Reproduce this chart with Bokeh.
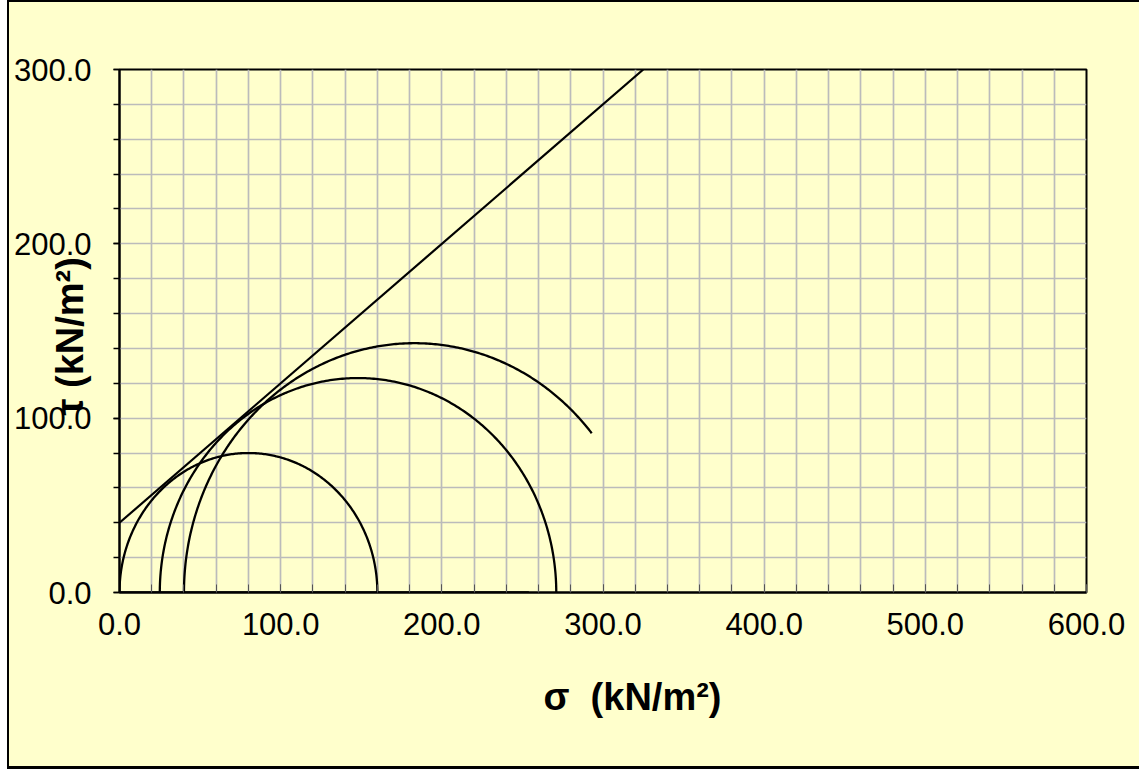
import numpy as np
from bokeh.plotting import figure
from bokeh.models import (Range1d, SingleIntervalTicker, FixedTicker,
                          NumeralTickFormatter, Title)
from bokeh.embed import file_html
from bokeh.resources import INLINE

# ---- data ----
sigma3 = [0.0, 25.0, 40.0]          # minor principal stress of each Mohr circle
sigma1 = [160.0, 271.0, 326.0]      # major principal stress of each Mohr circle
arc_end = [160.0, 271.0, 293.0]     # sigma where each drawn arc stops
env_sigma = [0.0, 325.0]            # failure envelope
env_tau = [40.0, 300.0]
base_sigma = [0.0, 254.0]           # baseline series
base_tau = [0.0, 0.0]
x_grid = list(range(0, 601, 20))
y_grid = list(range(0, 301, 20))

YELLOW = "#FFFFCC"
NB = "\u00a0"

p = figure(width=1139, height=769, output_backend="svg", toolbar_location=None,
           x_range=Range1d(0, 600), y_range=Range1d(0, 300),
           min_border_left=119, min_border_right=53,
           min_border_top=69, min_border_bottom=177)

p.background_fill_color = YELLOW
p.border_fill_alpha = 0
p.outline_line_color = "black"
p.outline_line_width = 2
p.styles = {
    "background": ("linear-gradient(#000,#000) 7px 0 / 100% 2px no-repeat, "
                   "linear-gradient(#000,#000) 7px 100% / 100% 3px no-repeat, "
                   "linear-gradient(to right, #fff 7px, #000 7px, #000 9px, "
                   + YELLOW + " 9px) 0 0 / 100% 100% no-repeat")
}

# grid
p.xgrid.ticker = FixedTicker(ticks=x_grid)
p.ygrid.ticker = FixedTicker(ticks=y_grid)
for g in (p.xgrid, p.ygrid):
    g.grid_line_color = "#BBBBBB"
    g.grid_line_width = 1.7

# axes
xa = p.xaxis[0]
xa.ticker = SingleIntervalTicker(interval=100, num_minor_ticks=5)
xa.formatter = NumeralTickFormatter(format="0.0")
xa.major_tick_in = 8
xa.major_tick_out = 0
xa.minor_tick_in = 8
xa.minor_tick_out = 0
xa.major_tick_line_color = "#555555"
xa.minor_tick_line_color = "#555555"
xa.axis_line_color = "black"
xa.axis_line_width = 2
xa.major_label_standoff = 20

ya = p.yaxis[0]
ya.ticker = SingleIntervalTicker(interval=100, num_minor_ticks=5)
ya.formatter = NumeralTickFormatter(format="0.0")
ya.major_tick_in = 0
ya.major_tick_out = 6
ya.minor_tick_in = 0
ya.minor_tick_out = 6
ya.major_tick_line_color = "black"
ya.minor_tick_line_color = "black"
ya.major_tick_line_width = 1.5
ya.minor_tick_line_width = 1.5
ya.axis_line_color = "black"
ya.axis_line_width = 2
ya.major_label_standoff = 22

for ax in (xa, ya):
    ax.major_label_text_font = "Liberation Sans"
    ax.major_label_text_font_size = "31px"
    ax.major_label_text_color = "black"

# y axis title overlapping the tick labels, as in the reference
ya.axis_label = "τ" + NB + "(kN/m²)" + NB
ya.axis_label_text_font = "Liberation Sans"
ya.axis_label_text_font_style = "bold"
ya.axis_label_text_font_size = "38px"
ya.axis_label_text_color = "black"
ya.axis_label_standoff = -80

# x axis title as a Title below, placed from the left
p.add_layout(Title(text="σ" + NB + NB + "(kN/m²)", align="left", offset=424,
                   standoff=72, text_font="Liberation Sans",
                   text_font_style="bold", text_font_size="38px",
                   text_color="black"), "below")

# Mohr circles
for s3, s1, e in zip(sigma3, sigma1, arc_end):
    c = (s1 + s3) / 2.0
    r = (s1 - s3) / 2.0
    t_end = np.arccos(np.clip((e - c) / r, -1, 1))
    t = np.linspace(np.pi, t_end, 300)
    p.line(c + r * np.cos(t), r * np.sin(t), line_color="black", line_width=2.3)

# envelope and baseline
p.line(env_sigma, env_tau, line_color="black", line_width=2.2)
p.line(base_sigma, base_tau, line_color="black", line_width=2.5)

open("out.html", "w").write(file_html(p, INLINE))
